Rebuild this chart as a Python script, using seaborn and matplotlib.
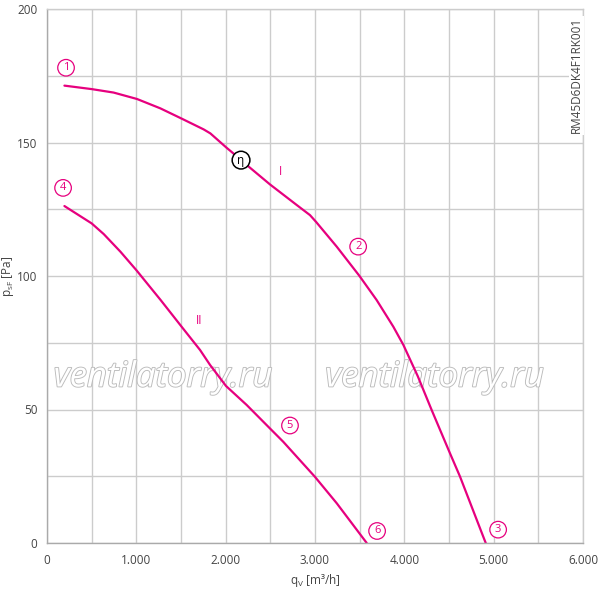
import matplotlib
matplotlib.use('Agg')
import matplotlib.pyplot as plt
import matplotlib.patheffects as pe
from matplotlib.ticker import FuncFormatter, MultipleLocator
import pandas as pd
import seaborn as sns

# curve I (max speed)
q_1=[195, 500, 746, 1007, 1268, 1504, 1754, 1829, 2008, 2108, 2235, 2496, 2795, 2944, 3011, 3243, 3496, 3690, 3877, 3989, 4150, 4306, 4511, 4623, 4911]
p_1=[171.3, 170.0, 168.7, 166.3, 162.8, 159.0, 154.9, 153.4, 148.1, 145.3, 141.6, 134.3, 126.6, 122.8, 120.3, 111.0, 100.1, 91.0, 81.0, 74.2, 62.5, 49.8, 33.6, 24.9, 0]
# curve II (low speed)
q_2=[195, 500, 635, 822, 1000, 1272, 1507, 1713, 1825, 2004, 2235, 2496, 2645, 2999, 3243, 3579]
p_2=[126.2, 119.7, 115.7, 109.1, 102.2, 91.0, 81.0, 72.3, 66.7, 58.8, 51.7, 42.9, 37.9, 24.8, 14.9, 0]

# marker labels
mark_txt=['1','2','3','4','5','6']
mark_q=[213, 3483, 5050, 180, 2720, 3695]
mark_p=[178, 111, 5, 133, 44, 4.5]

pink='#e6007e'
grey='#444444'

sns.set_style('white')
plt.rcParams['font.family']=['Open Sans','DejaVu Sans']

fig=plt.figure(figsize=(6,5.9),dpi=100)
ax=fig.add_axes([47/600, 1-543/590, 536/600, 534/590])

d1=pd.DataFrame({'q':q_1,'p':p_1})
d2=pd.DataFrame({'q':q_2,'p':p_2})
sns.lineplot(data=d1,x='q',y='p',ax=ax,color=pink,lw=1.6,sort=False,estimator=None)
sns.lineplot(data=d2,x='q',y='p',ax=ax,color=pink,lw=1.6,sort=False,estimator=None)

ax.set_xlim(0,6000)
ax.set_ylim(0,200)
ax.xaxis.set_major_locator(MultipleLocator(1000))
ax.xaxis.set_minor_locator(MultipleLocator(500))
ax.yaxis.set_major_locator(MultipleLocator(50))
ax.yaxis.set_minor_locator(MultipleLocator(25))
ax.xaxis.set_major_formatter(FuncFormatter(lambda v,p: '{:,.0f}'.format(v).replace(',','.')))
ax.grid(which='both',color='#cccccc',lw=1)
ax.set_axisbelow(True)
for s in ax.spines.values():
    s.set_color('#cccccc')
    s.set_linewidth(1)
ax.spines['left'].set_color('#aaaaaa')
ax.spines['bottom'].set_color('#aaaaaa')
ax.tick_params(which='major',length=4,color='#aaaaaa',labelcolor=grey,labelsize=8.5,pad=3)
ax.tick_params(which='minor',length=0)
ax.tick_params(axis='x',pad=4)

ax.set_xlabel('q$_\\mathregular{V}$ [m³/h]',color=grey,fontsize=8.5)
ax.xaxis.set_label_coords(0.5,-0.054)
ax.set_ylabel('p$_\\mathregular{sF}$ [Pa]',color=grey,fontsize=8.5)
ax.yaxis.set_label_coords(-0.057,0.5)

# watermark
for xw in [1300,4340]:
    ax.text(xw,62,'ventilatorry.ru',fontsize=25,style='italic',color='white',ha='center',va='center',
            path_effects=[pe.withStroke(linewidth=1.3,foreground='#bbbbbb')],zorder=1.5)

for t,x,y in zip(mark_txt,mark_q,mark_p):
    ax.text(x,y,t,color=pink,fontsize=8,ha='center',va='center',
            bbox=dict(boxstyle='circle,pad=0.25',fc='white',ec=pink,lw=0.9))
ax.text(2172,143.4,'η',color='black',fontsize=8.5,ha='center',va='center',
        bbox=dict(boxstyle='circle,pad=0.2',fc='white',ec='black',lw=1.1))
ax.text(2609,139,'I',color=pink,fontsize=8.5,ha='center',va='center')
ax.text(1702,83.5,'II',color=pink,fontsize=8.5,ha='center',va='center')

ax.text(0.988,0.985,'RM45D6DK4F1RK001',transform=ax.transAxes,rotation=90,ha='center',va='top',
        color=grey,fontsize=8.5,bbox=dict(fc='white',ec='none',pad=1))

fig.savefig('out.png',dpi=100)
